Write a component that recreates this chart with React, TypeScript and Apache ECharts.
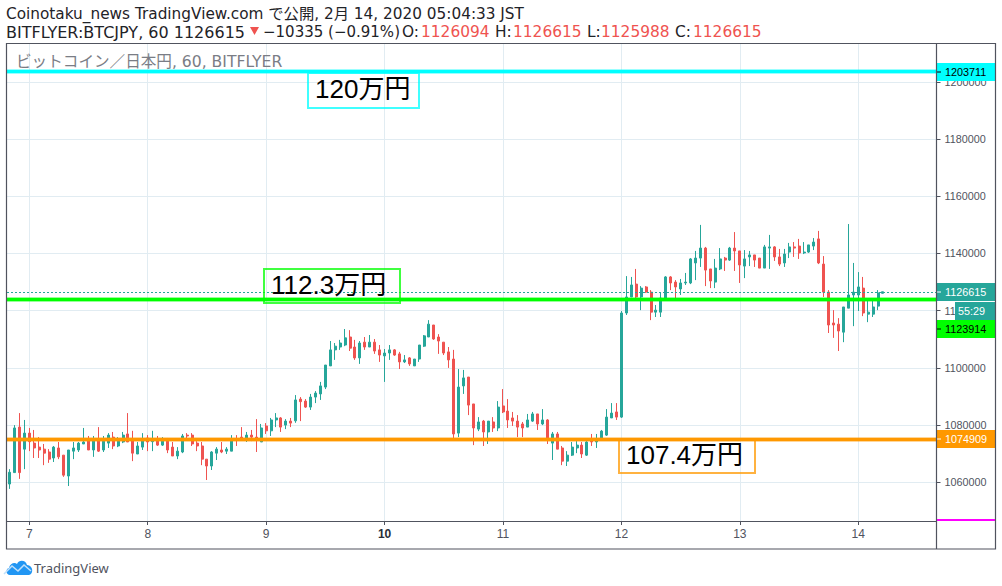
import React, { useEffect, useRef } from "react";
import * as echarts from "echarts";

const opens = [
1059400,1063400,1079300,1071600,1077200,1073700,1072300,1071600,1070600,1068500,
1072000,1069500,1062200,1070900,1071300,1073400,1075100,1071300,1075000,1071300,
1073700,1075800,1072700,1074100,1076900,1074800,1069900,1072300,1075500,1074200,
1074400,1073000,1074400,1072300,1069200,1070600,1076500,1076500,1073700,1072700,
1068100,1065700,1070200,1071300,1070900,1070900,1075000,1075800,1074800,1076500,
1075800,1074100,1079700,1078000,1081800,1082500,1080000,1081400,1081500,1089100,
1088400,1086300,1089800,1090900,1093300,1100700,1106300,1107300,1108000,1110800,
1107300,1103500,1109000,1107300,1109000,1106300,1104200,1105200,1106300,1104900,
1102100,1103500,1100700,1103100,1107600,1110800,1115000,1110800,1109000,1105600,
1103100,1077200,1093700,1096800,1087400,1078600,1081400,1077600,1081100,1079000,
1086700,1084900,1082500,1081400,1080400,1079300,1081400,1083900,1080400,1081800,
1073700,1076900,1072000,1067400,1069500,1072000,1073000,1069500,1074400,1074100,
1075500,1076500,1082500,1084600,1082800,1119200,1124800,1129300,1124800,1128300,
1126500,1119500,1119500,1124400,1131800,1130000,1127600,1129700,1129700,1136700,
1138400,1141900,1134600,1130000,1134600,1138400,1137700,1141900,1140900,1135600,
1138800,1139500,1138400,1134900,1141900,1142300,1138800,1136700,1140500,1142300,
1142600,1140200,1140500,1142600,1145100,1136300,1126500,1115700,1115300,1112500,
1120900,1125500,1125500,1127900,1118800,1118800,1121600,1126094];
const closes = [
1063500,1079000,1063400,1077200,1074200,1072000,1071300,1070200,1068100,1072300,
1068900,1062500,1071300,1072000,1073700,1074100,1071300,1074800,1070900,1074400,
1076500,1072700,1074400,1076500,1074100,1070200,1072700,1074800,1074100,1074400,
1073000,1074400,1071300,1069200,1070900,1076200,1076200,1073400,1072700,1068100,
1065700,1070600,1071600,1070600,1071600,1074800,1074600,1075000,1076500,1075800,
1075000,1079000,1078000,1081800,1082500,1079300,1081400,1080700,1088800,1088200,
1086300,1089800,1091200,1093700,1101000,1106300,1107600,1108700,1110500,1106900,
1103500,1108700,1107300,1109000,1105900,1104500,1105200,1106300,1104500,1102100,
1102800,1101400,1103100,1108000,1111200,1115300,1110100,1109400,1105200,1102800,
1076900,1093300,1096500,1087000,1079000,1081100,1077600,1081400,1079000,1086300,
1084600,1081800,1081400,1079300,1079000,1081800,1083900,1080400,1081800,1075100,
1076900,1071600,1067400,1069500,1072300,1073000,1069900,1074100,1074100,1074800,
1077900,1082800,1084200,1082800,1119200,1124800,1129000,1124800,1127900,1126500,
1119500,1120200,1124400,1131800,1129700,1128300,1129700,1130000,1138100,1138400,
1141900,1134200,1130400,1134900,1138100,1137700,1141900,1140900,1136000,1138100,
1139500,1137700,1134900,1142300,1142300,1138800,1136300,1139800,1142300,1141900,
1140200,1140500,1143000,1144000,1136700,1126500,1115000,1115000,1112900,1121300,
1125500,1126500,1128300,1119200,1119500,1121300,1126200,1126615];
const lows = [
1057700,1063400,1061200,1064600,1070900,1068500,1068500,1066000,1066800,1067100,
1068100,1061900,1058700,1068100,1070600,1073400,1071300,1068900,1070600,1070600,
1072000,1071600,1072300,1073700,1074100,1067400,1069900,1071300,1070900,1070900,
1072700,1072700,1070200,1069200,1068100,1070200,1074800,1072700,1070900,1066000,
1060800,1064300,1067800,1070200,1069900,1070900,1072700,1074800,1074100,1074400,
1070600,1074100,1076900,1076200,1079300,1077600,1078600,1079300,1080800,1081400,
1086000,1085300,1087700,1088800,1092600,1100700,1102800,1106300,1107600,1105900,
1102800,1101400,1106300,1107300,1104900,1102100,1095100,1102800,1104200,1099600,
1101700,1100700,1100700,1102100,1107300,1110800,1109800,1104900,1104500,1100000,
1075500,1075800,1090900,1083500,1073000,1077900,1072700,1073400,1077600,1077900,
1084200,1079000,1079700,1075800,1075800,1079300,1081100,1078300,1080000,1073400,
1067800,1071600,1066000,1065700,1069200,1070200,1068500,1069200,1072700,1072000,
1075100,1076200,1082500,1081800,1082500,1118500,1124800,1123500,1120200,1126200,
1116700,1117800,1117800,1124400,1127200,1124400,1125500,1129000,1129300,1130700,
1135300,1128600,1127900,1127900,1134200,1133900,1137400,1133900,1129700,1131400,
1135600,1135300,1134900,1134900,1134600,1137400,1135600,1135300,1138400,1138800,
1138100,1139800,1140200,1141200,1136300,1124800,1112200,1110500,1105900,1109000,
1120900,1114600,1119900,1118100,1116000,1117800,1120200,1125988];
const highs = [
1064600,1080000,1084200,1081800,1079000,1078300,1075800,1073400,1071600,1072700,
1074100,1069500,1071300,1074100,1074100,1079000,1076200,1076200,1079300,1076200,
1077200,1077600,1075800,1077600,1084200,1078000,1074100,1077200,1076500,1078000,
1076200,1075800,1075500,1074100,1072300,1076900,1077200,1077200,1074400,1074100,
1068100,1070900,1072300,1074100,1072300,1076500,1076500,1079300,1077600,1078300,
1082100,1080400,1080700,1082500,1084200,1082800,1082100,1082500,1090500,1089800,
1089100,1090900,1091900,1095100,1101000,1109400,1108700,1109800,1113600,1113200,
1109800,1109400,1110800,1111500,1110100,1108000,1106600,1108000,1106600,1105600,
1104500,1103800,1103100,1108000,1111500,1116700,1115000,1111800,1109000,1107300,
1106300,1099600,1099300,1096800,1087400,1082800,1081800,1081400,1082800,1088400,
1092600,1089100,1084600,1083500,1081100,1083900,1084600,1083900,1085600,1082100,
1077600,1077600,1072700,1070900,1074100,1074400,1074100,1074400,1076900,1076900,
1078300,1085600,1087700,1087700,1119900,1132100,1131800,1134600,1128600,1128600,
1127200,1122000,1126500,1132100,1132100,1130700,1131100,1133200,1138400,1140900,
1150000,1142300,1134600,1138100,1141900,1138800,1142300,1147500,1140900,1141200,
1140900,1139500,1138400,1143000,1146500,1142600,1141600,1141600,1143700,1144000,
1145100,1144000,1143000,1145400,1147900,1139100,1127200,1120200,1117400,1121300,
1150300,1136700,1133500,1131800,1123700,1123400,1127200,1126615];

const firstHour = -4; // hours relative to Feb 7 00:00 JST
const dayTicks = [0, 24, 48, 72, 96, 120, 144, 168];
const dayNames = ["7", "8", "9", "10", "11", "12", "13", "14"];
const priceTicks = [1060000, 1080000, 1100000, 1120000, 1140000, 1160000, 1180000, 1200000];
const levels = [
  { value: 1203711, color: "#00ffff", tag: "1203711", tagText: "#000000", label: "120万円" },
  { value: 1123914, color: "#00ff00", tag: "1123914", tagText: "#000000", label: "112.3万円" },
  { value: 1074909, color: "#ff9800", tag: "1074909", tagText: "#ffffff", label: "107.4万円" },
];
const lastPrice = 1126615;
const countdown = "55:29";
const headerLine1 = "Coinotaku_news TradingView.com で公開, 2月 14, 2020 05:04:33 JST";
const headerLine2 = "BITFLYER:BTCJPY, 60 1126615";
const headerChange = "−10335 (−0.91%)";
const ohlcTexts = [
  { key: "O:", keyX: 402, value: "1126094", valueX: 421 },
  { key: "H:", keyX: 495, value: "1126615", valueX: 513 },
  { key: "L:", keyX: 587, value: "1125988", valueX: 601 },
  { key: "C:", keyX: 675, value: "1126615", valueX: 693 },
];
const watermark = "ビットコイン／日本円, 60, BITFLYER";

const UP = "#26a69a";
const DOWN = "#ef5350";
const INK = "#50535e";
const GRIDC = "#e1ecf2";
const HEAD_FONT = '"DejaVu Sans","Noto Sans CJK JP",sans-serif';
const AXIS_FONT = '"Liberation Sans",Arial,sans-serif';

echarts.graphic.registerShape(
  "tvcloud",
  echarts.graphic.extendPath(
    "M4 15 C0 15 -1 9 3 8 C4 3 9 2 11 4 C13 -1 20 0 21 5 C25 5 27 9 26 12 C25 15 23 15 22 15 Z",
    {}
  )
);

function headText(text: string, x: number, y: number, fill: string, size = 15.3) {
  return {
    type: "text", x, y, z: 20, silent: true,
    style: { text, fill, font: `${size}px ${HEAD_FONT}`, verticalAlign: "middle" },
  };
}

function tag(y0: number, y1: number, x0: number, fill: string, text: string, color: string) {
  return [
    { type: "rect", z: 30, silent: true, shape: { x: x0, y: y0, width: 995 - x0, height: y1 - y0 }, style: { fill } },
    ...(x0 === 937
      ? [{ type: "line", z: 31, silent: true, shape: { x1: 937, y1: (y0 + y1) / 2, x2: 941, y2: (y0 + y1) / 2 }, style: { stroke: color, lineWidth: 1 } }]
      : []),
    {
      type: "text", z: 31, silent: true, x: x0 === 937 ? 945 : x0 + 3, y: (y0 + y1) / 2,
      style: { text, fill: color, font: `10.8px ${AXIS_FONT}`, verticalAlign: "middle" },
    },
  ];
}

function noteBox(x: number, y: number, w: number, h: number, color: string, text: string) {
  return [
    { type: "rect", z: 15, silent: true, shape: { x, y, width: w, height: h }, style: { fill: "transparent", stroke: color, lineWidth: 2, opacity: 0.75 } },
    {
      type: "text", z: 16, silent: true, x: x + 7, y: y + h / 2 - 1.5,
      style: { text, fill: "#000000", font: `26px "Liberation Sans","Noto Sans CJK JP",sans-serif`, verticalAlign: "middle" },
    },
  ];
}

export default function App() {
  const ref = useRef<HTMLDivElement>(null);
  useEffect(() => {
    const chart = echarts.init(ref.current!, null, { renderer: "svg" });
    const data = opens.map((o, i) => [firstHour + i, o, closes[i], lows[i], highs[i]]);
    const lineData: any[] = [];
    levels.forEach((l) => {
      lineData.push({ yAxis: l.value, lineStyle: { color: l.color, width: 5, opacity: 0.4, type: "solid" } });
      lineData.push({ yAxis: l.value, lineStyle: { color: l.color, width: 3, opacity: 1, type: "solid" } });
    });
    lineData.unshift({ yAxis: lastPrice, lineStyle: { color: UP, width: 1, type: [2, 2], opacity: 1 } });

    const graphics: any[] = [
      { type: "rect", z: 40, silent: true, shape: { x: 6.5, y: 43.5, width: 989, height: 505.5 }, style: { fill: "transparent", stroke: INK, lineWidth: 1.2 } },
      { type: "line", z: 40, silent: true, shape: { x1: 936.5, y1: 43, x2: 936.5, y2: 549 }, style: { stroke: INK, lineWidth: 1.2 } },
      { type: "rect", z: 30, silent: true, shape: { x: 937, y: 519, width: 58, height: 2 }, style: { fill: "#ff00ff" } },
      headText(headerLine1, 6, 14, "#1f2328"),
      headText(headerLine2, 6, 32, "#1f2328", 16),
      { type: "polygon", z: 20, silent: true, shape: { points: [[250, 27], [259, 27], [254.5, 35]] }, style: { fill: DOWN } },
      headText(headerChange, 263, 32, "#1f2328", 15),
      {
        type: "text", z: 12, silent: true, x: 16, y: 62,
        style: { text: watermark, fill: "#7a7d85", font: `15.6px ${HEAD_FONT}`, verticalAlign: "middle" },
      },
      { type: "tvcloud", z: 20, silent: true, x: 6, y: 560, style: { fill: "#2196f3" } },
      { type: "polyline", z: 21, silent: true, shape: { points: [[4, 574], [12, 566], [18, 571], [24, 565], [31, 571]] }, style: { stroke: "#bfe0fb", lineWidth: 1.5, fill: "none" } },
      {
        type: "text", z: 20, silent: true, x: 34, y: 568,
        style: { text: "TradingView", fill: "#50535e", font: `13px "Noto Sans",sans-serif`, verticalAlign: "middle" },
      },
      ...ohlcTexts.flatMap((t) => [
        headText(t.key, t.keyX, 32, "#1f2328", 15.4),
        headText(t.value, t.valueX, 32, DOWN, 15.4),
      ]),
      ...tag(63, 81, 937, levels[0].color, levels[0].tag, levels[0].tagText),
      ...tag(283, 301, 937, UP, String(lastPrice), "#ffffff"),
      ...tag(302, 320, 955, UP, countdown, "#ffffff"),
      ...tag(320, 338, 937, levels[1].color, levels[1].tag, levels[1].tagText),
      ...tag(430, 448, 937, levels[2].color, levels[2].tag, levels[2].tagText),
      ...noteBox(308, 73, 111, 35, levels[0].color, levels[0].label),
      ...noteBox(264, 269, 136, 34, levels[1].color, levels[1].label),
      ...noteBox(619, 440, 136, 33, levels[2].color, levels[2].label),
    ];

    chart.setOption({
      animation: false,
      backgroundColor: "#ffffff",
      grid: { left: 7, top: 43, width: 929.5, height: 478, containLabel: false },
      xAxis: {
        type: "value",
        min: -4.52,
        max: 183.85,
        axisLine: { show: true, onZero: false, lineStyle: { color: INK, width: 1.2 } },
        axisTick: { show: true, length: 4, lineStyle: { color: INK }, customValues: dayTicks },
        splitLine: { show: true, lineStyle: { color: GRIDC, width: 1 } },
        axisLabel: {
          color: INK,
          margin: 7,
          fontFamily: AXIS_FONT,
          fontSize: 12,
          customValues: dayTicks,
          formatter: (v: number) => {
            const s = dayNames[dayTicks.indexOf(v)] ?? "";
            return s === "10" ? `{b|${s}}` : s;
          },
          rich: { b: { fontWeight: "bold", fontSize: 12, color: "#2a2e39", fontFamily: AXIS_FONT } },
        },
      },
      yAxis: {
        type: "value",
        position: "right",
        min: 1046470,
        max: 1213600,
        axisLine: { show: false, onZero: false },
        axisTick: { show: true, length: 4, lineStyle: { color: INK }, customValues: priceTicks },
        splitLine: { show: true, lineStyle: { color: GRIDC, width: 1 } },
        axisLabel: {
          color: INK,
          margin: 8,
          fontFamily: AXIS_FONT,
          fontSize: 10.8,
          customValues: priceTicks,
          formatter: (v: number) => String(v),
        },
      },
      graphic: { elements: graphics },
      series: [
        {
          type: "candlestick",
          barWidth: 2.5,
          silent: true,
          itemStyle: { color: UP, color0: DOWN, borderColor: UP, borderColor0: DOWN, borderWidth: 1 },
          data,
          markLine: { silent: true, symbol: "none", label: { show: false }, data: lineData },
        },
      ],
    });
    return () => chart.dispose();
  }, []);
  return <div ref={ref} style={{ position: "absolute", left: 0, top: 0, width: 1002, height: 586 }} />;
}
